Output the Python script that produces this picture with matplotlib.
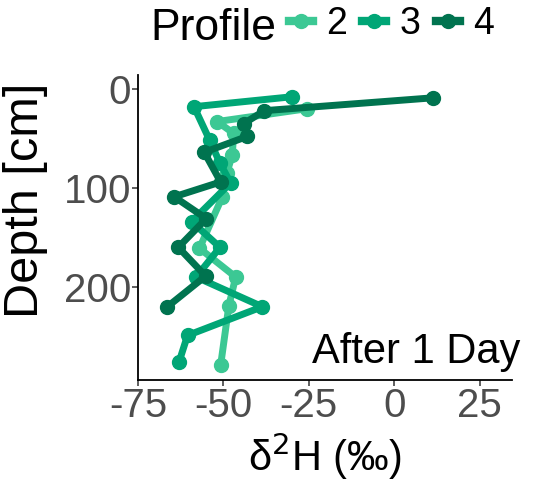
import matplotlib
matplotlib.use("Agg")
import matplotlib.pyplot as plt
from matplotlib.lines import Line2D

plt.rcParams["axes.unicode_minus"] = False

# data: d2H (permil) and depth (cm) per profile
p2_d2h = [-25.4, -51.8, -47.0, -47.4, -49.0, -50.3, -57.0, -46.4, -48.4, -50.8]
p2_depth = [20, 33, 45, 67, 85, 109, 161, 190, 219, 279]

p3_d2h = [-30.0, -58.6, -54.0, -51.0, -47.9, -59.3, -51.0, -58.0, -38.6, -60.5, -63.0]
p3_depth = [8, 18, 52, 75, 95, 134, 160, 190, 220, 249, 276]

p4_d2h = [11.5, -38.0, -44.0, -43.0, -55.6, -50.8, -64.4, -55.0, -63.2, -55.2, -66.4]
p4_depth = [9, 22, 35, 48, 64, 94, 109, 131, 160, 189, 220]

profiles = ["2", "3", "4"]
colors = ["#3CC894", "#00A676", "#00734F"]
xticks = [-75, -50, -25, 0, 25]
yticks = [0, 100, 200]

fig = plt.figure(figsize=(5.39, 4.98), dpi=100)
ax = fig.add_axes([138/539, 1-380/498, (512-138)/539, (380-75)/498])

series = [(p2_d2h, p2_depth), (p3_d2h, p3_depth), (p4_d2h, p4_depth)]
for (x, y), c in zip(series, colors):
    ax.plot(x, y, color=c, lw=5, marker="o", ms=10, solid_capstyle="butt",
            solid_joinstyle="round")

ax.set_xlim(-75, 34.5)
ax.set_ylim(294, -14)
ax.set_xticks(xticks)
ax.set_yticks(yticks)
ax.set_xticklabels([str(v) for v in xticks])
ax.set_yticklabels([str(v) for v in yticks])
for s in ["top", "right"]:
    ax.spines[s].set_visible(False)
for s in ["left", "bottom"]:
    ax.spines[s].set_linewidth(1.3)
ax.tick_params(axis="both", colors="#333333", labelcolor="#4D4D4D",
               labelsize=29, length=4, width=1.1, pad=1)
for lab in ax.get_xticklabels() + ax.get_yticklabels():
    lab.set_fontfamily("Liberation Sans")

ax.set_ylabel("Depth [cm]", fontsize=35, family="Liberation Sans")
ax.yaxis.set_label_coords(-0.24, 0.59)
ax.set_xlabel("δ$^2$H (‰)", fontsize=30, family="Liberation Sans", labelpad=4)

ax.text((520-138)/374, (380-363)/305, "After 1 Day", transform=ax.transAxes,
        ha="right", va="baseline", fontsize=30, family="Liberation Sans")

fig.text(150/539, 1-40/498, "Profile", fontsize=32, family="Liberation Sans",
         va="baseline", ha="left")
handles = [Line2D([0], [0], color=c, lw=6, marker="o", ms=10) for c in colors]
leg = fig.legend(handles, profiles, loc="center left",
                 bbox_to_anchor=(289/539, 1-24/498), ncol=3, frameon=False,
                 fontsize=27, handlelength=0.64, handletextpad=0.36,
                 columnspacing=0.4, borderpad=0, borderaxespad=0)
for t in leg.get_texts():
    t.set_fontfamily("Liberation Sans")

fig.savefig("out.png", dpi=100)
